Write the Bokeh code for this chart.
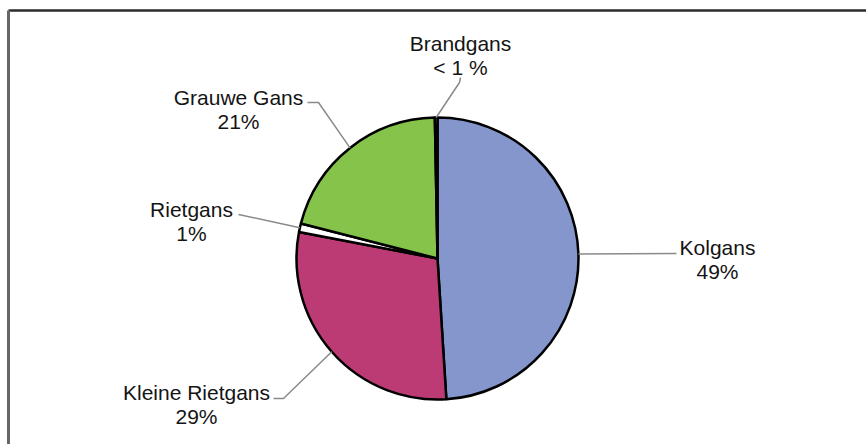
import math
from bokeh.plotting import figure
from bokeh.models import Range1d, ColumnDataSource
from bokeh.core.properties import value
from bokeh.embed import file_html
from bokeh.resources import INLINE

# ---- data ----
categories = ["Kolgans", "Kleine Rietgans", "Rietgans", "Grauwe Gans", "Brandgans"]
shares = [49.0, 29.0, 1.0, 20.7, 0.3]
pct_labels = ["49%", "29%", "1%", "21%", "< 1 %"]
colors = ["#8496CB", "#BD3B74", "#FFFFFF", "#86C34B", "#FFFFFF"]

# ---- layout (pixel coords, y down) ----
W, H = 866, 444
CX, CY, R = 437, 258, 141
label_x = [717, 196, 191, 238, 460]
label_base = [247, 392, 209, 97, 43]
line_gap = 24
leader_tail = [
    [(676, 253)],
    [(283, 398), (273, 398)],
    [(238, 214)],
    [(318, 102), (307, 102)],
    [(459, 82), (460, 77)],
]

def fy(ypx):
    return H - ypx

total = sum(shares)
starts, ends, mids = [], [], []
c = 0.0
for s in shares:
    c0 = c / total
    c += s
    c1 = c / total
    starts.append(math.pi / 2 - 2 * math.pi * c0)
    ends.append(math.pi / 2 - 2 * math.pi * c1)
    mids.append(math.pi / 2 - 2 * math.pi * (c0 + c1) / 2)

p = figure(width=W, height=H, output_backend="svg", toolbar_location=None,
           x_range=Range1d(0, W), y_range=Range1d(0, H), min_border=0)
p.axis.visible = False
p.grid.visible = False
p.outline_line_color = None
p.background_fill_color = "#FFFFFF"
p.border_fill_color = "#FFFFFF"

# frame
p.segment(x0=[8], y0=[fy(10)], x1=[W], y1=[fy(10)], line_color="#2b2b2b", line_width=2.5)
p.segment(x0=[8], y0=[fy(10)], x1=[8], y1=[0], line_color="#666666", line_width=3)

src = ColumnDataSource(dict(cat=categories, start=starts, end=ends, color=colors))
p.wedge(x=CX, y=fy(CY), radius=R, start_angle="start", end_angle="end",
        direction="clock", fill_color="color", line_color="#000000",
        line_width=2.5, source=src)

# leader lines
xs, ys = [], []
for m, tail in zip(mids, leader_tail):
    ax = CX + R * math.cos(m)
    ay = fy(CY) + R * math.sin(m)
    xs.append([ax] + [t[0] for t in tail])
    ys.append([ay] + [fy(t[1]) for t in tail])
p.multi_line(xs=xs, ys=ys, line_color="#8a8a8a", line_width=1.5)

# labels
tx, ty, tt = [], [], []
for name, pct, lx, lb in zip(categories, pct_labels, label_x, label_base):
    tx += [lx, lx]
    ty += [fy(lb), fy(lb + line_gap)]
    tt += [name, pct]
p.text(x=tx, y=ty, text=tt, text_align="center", text_baseline="alphabetic",
       text_font=value("Liberation Sans"), text_font_size="21px", text_color="#141414")

open("out.html", "w").write(file_html(p, INLINE))
